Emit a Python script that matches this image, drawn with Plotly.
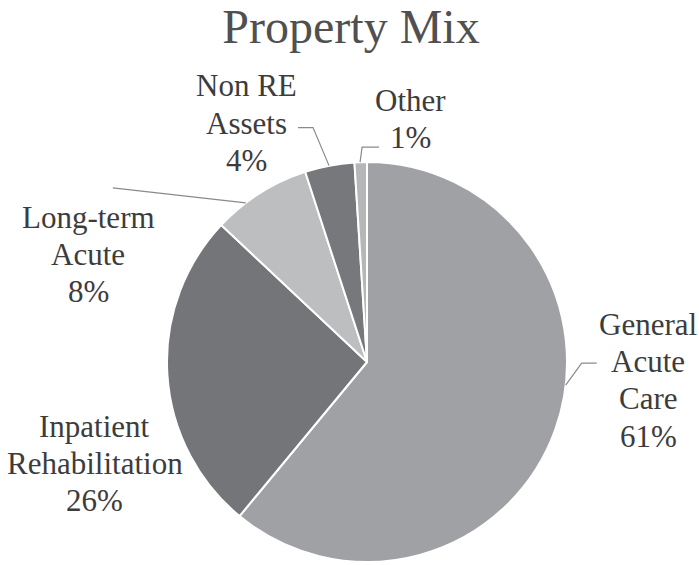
import math
import plotly.graph_objects as go

# ---- data ----
categories = ["General Acute Care", "Inpatient Rehabilitation", "Long-term Acute", "Non RE Assets", "Other"]
label_lines = [["General", "Acute", "Care"], ["Inpatient", "Rehabilitation"], ["Long-term", "Acute"],
               ["Non RE", "Assets"], ["Other"]]
values = [61, 26, 8, 4, 1]
colors = ["#a0a1a4", "#747579", "#bdbec0", "#77787c", "#b5b6b8"]

W, H = 699, 565
DOM_X = [167 / W, 567 / W]
DOM_Y = [1 - 562 / H, 1 - 162 / H]

# label placement: x centre and first-line centre (pixels), line spacing
label_pos = [(648, 324), (95, 426), (88, 217), (246, 86), (410, 100)]
LINE_GAP = 37.4
# leader lines (fraction within slice, pixel offsets from the slice edge)
leader = {
    0: (0.44, [(16, -22), (31, -22)]),
    2: (0.33, [(-133, -15)]),
    3: (0.49, [(-16, -38), (-31, -38)]),
    4: (0.45, [(2, -15), (19, -15)]),
}

FONT = "'Liberation Serif', 'Times New Roman', serif"
TXT = "#3c3c3c"

fig = go.Figure(go.Pie(
    labels=categories, values=values, sort=False, direction="clockwise", rotation=0,
    marker=dict(colors=colors, line=dict(color="white", width=2)),
    textinfo="none", showlegend=False, domain=dict(x=DOM_X, y=DOM_Y),
))

cx = (DOM_X[0] + DOM_X[1]) / 2 * W
cy = (1 - (DOM_Y[0] + DOM_Y[1]) / 2) * H
R = min((DOM_X[1] - DOM_X[0]) * W, (DOM_Y[1] - DOM_Y[0]) * H) / 2
total = sum(values)

annotations = []
shapes = []
cum = 0.0
for i, v in enumerate(values):
    start = cum / total * 360
    end = (cum + v) / total * 360
    cum += v
    lx, ly = label_pos[i]
    lines = label_lines[i] + [f"{round(v / total * 100)}%"]
    for k, line in enumerate(lines):
        annotations.append(dict(
            x=lx / W, y=1 - (ly + k * LINE_GAP) / H, xref="paper", yref="paper", text=line,
            showarrow=False, xanchor="center", yanchor="middle", align="center",
            font=dict(family=FONT, size=31, color=TXT),
        ))
    if i in leader:
        frac, offs = leader[i]
        ang = math.radians(start + frac * (end - start))
        ax = cx + R * math.sin(ang)
        ay = cy - R * math.cos(ang)
        pts = [(ax, ay)] + [(ax + dx, ay + dy) for dx, dy in offs]
        path = "M " + " L ".join(f"{px / W:.5f},{1 - py / H:.5f}" for px, py in pts)
        shapes.append(dict(type="path", path=path, xref="paper", yref="paper",
                           line=dict(color="#8a8a8a", width=1.2)))

fig.update_layout(
    width=W, height=H, margin=dict(l=0, r=0, t=0, b=0),
    paper_bgcolor="white", plot_bgcolor="white",
    font=dict(family=FONT),
    title=dict(text="Property Mix", x=351 / W, xanchor="center", y=1 - 26 / H, yanchor="middle",
               font=dict(family=FONT, size=48, color="#505050")),
    annotations=annotations, shapes=shapes,
)

fig.write_html("out.html", config={"displayModeBar": False},
               post_script="document.body.style.margin='0';document.body.style.overflow='hidden';")
